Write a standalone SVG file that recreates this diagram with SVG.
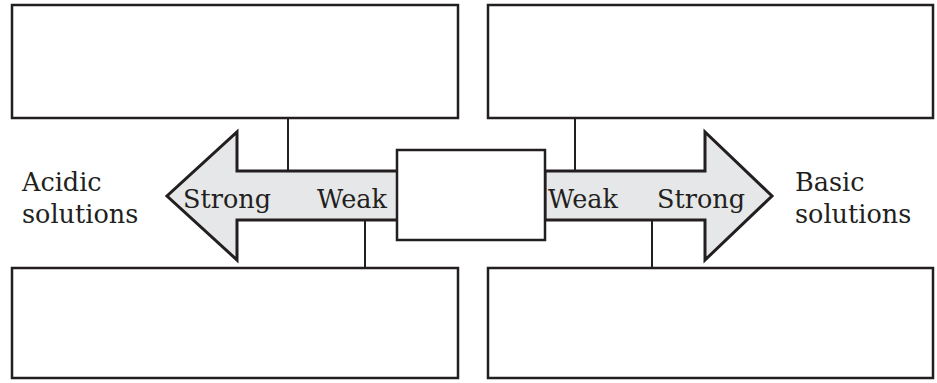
<svg xmlns="http://www.w3.org/2000/svg" width="937" height="383" viewBox="0 0 937 383">
<style>
.box{fill:#fff;stroke:#231f20;stroke-width:2.5}
.arrow{fill:#e6e7e8;stroke:#231f20;stroke-width:3;stroke-linejoin:miter}
.conn{stroke:#231f20;stroke-width:2;fill:none}
text{font-family:"DejaVu Serif","Liberation Serif",serif;font-size:25.5px;fill:#231f20}
</style>
<rect width="937" height="383" fill="#fff"/>
<g id="connectors">
<line class="conn" x1="288" y1="118" x2="288" y2="171"/>
<line class="conn" x1="365" y1="220" x2="365" y2="268"/>
<line class="conn" x1="575" y1="118" x2="575" y2="171"/>
<line class="conn" x1="652" y1="220" x2="652" y2="268"/>
</g>
<g id="arrow-left">
<polygon class="arrow" points="398,171 237,171 237,132 167,196 237,260 237,220 398,220"/>
<text x="183" y="208">Strong</text>
<text x="317" y="208">Weak</text>
</g>
<g id="arrow-right">
<polygon class="arrow" points="545,171 705,171 705,132 772,196 705,260 705,220 545,220"/>
<text x="548" y="208">Weak</text>
<text x="657" y="208">Strong</text>
</g>
<g id="box-top-left"><rect class="box" x="12" y="5" width="446" height="113"/></g>
<g id="box-top-right"><rect class="box" x="488" y="5" width="445" height="113"/></g>
<g id="box-bottom-left"><rect class="box" x="12" y="268" width="446" height="110"/></g>
<g id="box-bottom-right"><rect class="box" x="488" y="268" width="445" height="110"/></g>
<g id="box-center"><rect class="box" x="397" y="150" width="148" height="90"/></g>
<g id="label-acidic">
<text x="22" y="191">Acidic</text>
<text x="22" y="223">solutions</text>
</g>
<g id="label-basic">
<text x="795" y="191">Basic</text>
<text x="795" y="223">solutions</text>
</g>
</svg>
